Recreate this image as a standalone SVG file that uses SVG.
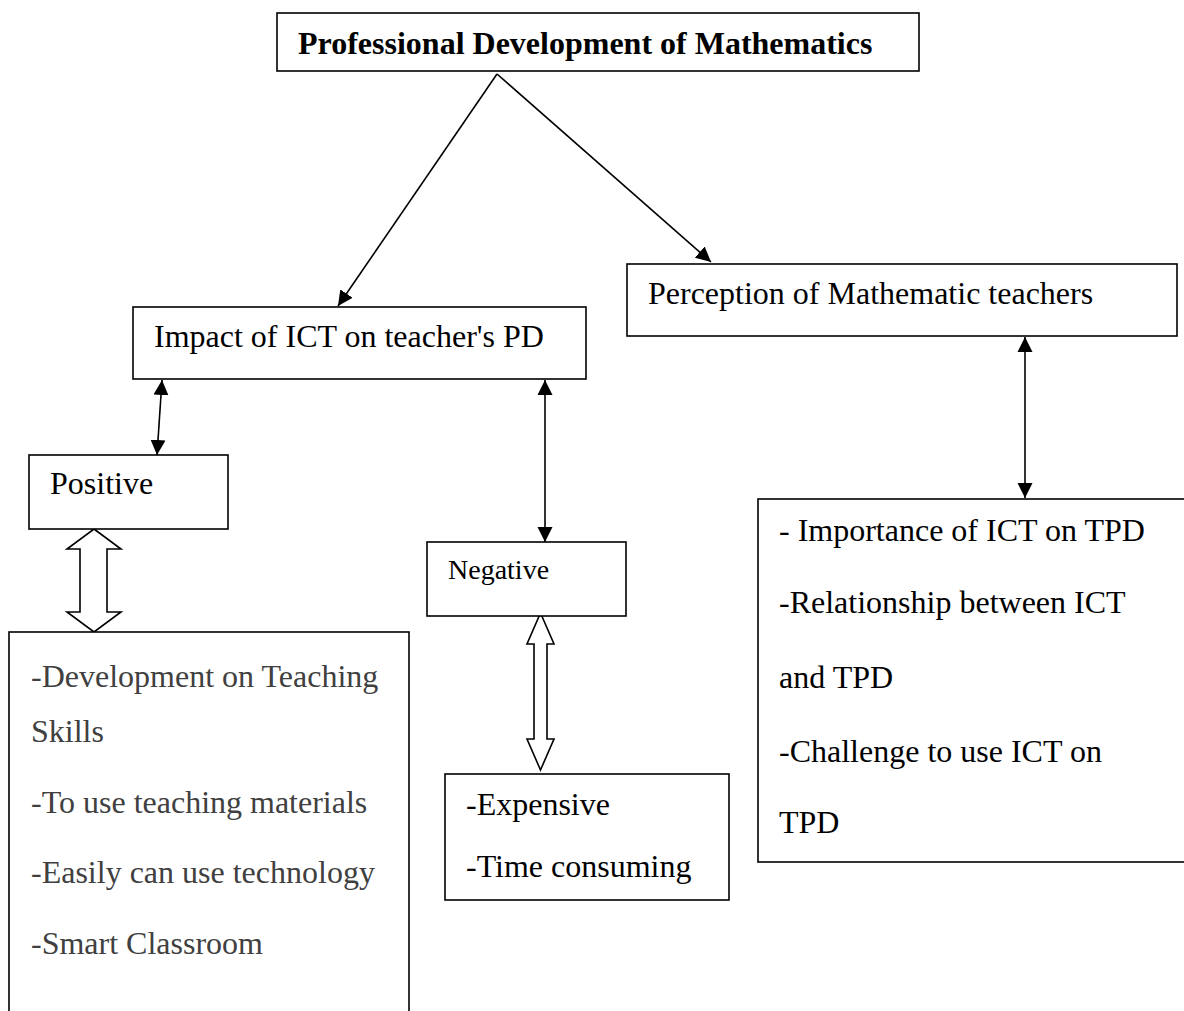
<svg xmlns="http://www.w3.org/2000/svg" width="1184" height="1011" viewBox="0 0 1184 1011">
<defs>
<style>
.box{fill:#fff;stroke:#000;stroke-width:1.6}
.t{font-family:"Liberation Serif","Times New Roman",serif;font-size:32px;fill:#000}
.b{font-weight:bold}
.g{fill:#404040}
.ln{stroke:#000;stroke-width:1.6;fill:none}
.hollow{fill:#fff;stroke:#000;stroke-width:1.6;stroke-linejoin:miter}
</style>
<marker id="ah" markerWidth="16" markerHeight="16" refX="15" refY="8" orient="auto" markerUnits="userSpaceOnUse">
<path d="M0,0.5 L15,8 L0,15.5 Z" fill="#000"/>
</marker>
<marker id="ahs" markerWidth="16" markerHeight="16" refX="15" refY="8" orient="auto-start-reverse" markerUnits="userSpaceOnUse">
<path d="M0,0.5 L15,8 L0,15.5 Z" fill="#000"/>
</marker>
</defs>
<rect width="1184" height="1011" fill="#fff"/>

<g id="connectors">
<line class="ln" x1="497" y1="74" x2="338" y2="306" marker-end="url(#ah)"/>
<line class="ln" x1="497" y1="74" x2="711" y2="262" marker-end="url(#ah)"/>
<line class="ln" x1="162" y1="380" x2="157" y2="455" marker-start="url(#ahs)" marker-end="url(#ahs)"/>
<line class="ln" x1="545" y1="380" x2="545" y2="542" marker-start="url(#ahs)" marker-end="url(#ahs)"/>
<line class="ln" x1="1025" y1="337" x2="1025" y2="498" marker-start="url(#ahs)" marker-end="url(#ahs)"/>
<polygon class="hollow" points="94,529 121,549 107,549 107,612 121,612 94,632 67,612 80,612 80,549 67,549"/>
<polygon class="hollow" points="540.5,613 554,644 547,644 547,739 554,739 540.5,770 527,739 534,739 534,644 527,644"/>
</g>

<g id="node-root">
<rect class="box" x="277" y="13" width="642" height="58"/>
<text class="t b" x="298" y="54">Professional Development of Mathematics</text>
</g>

<g id="node-impact">
<rect class="box" x="133" y="307" width="453" height="72"/>
<text class="t" x="154" y="347">Impact of ICT on teacher's PD</text>
</g>

<g id="node-perception">
<rect class="box" x="627" y="264" width="550" height="72"/>
<text class="t" x="648" y="304">Perception of Mathematic teachers</text>
</g>

<g id="node-positive">
<rect class="box" x="29" y="455" width="199" height="74"/>
<text class="t" x="50" y="494">Positive</text>
</g>

<g id="node-negative">
<rect class="box" x="427" y="542" width="199" height="74"/>
<text class="t" x="448" y="579" style="font-size:28px">Negative</text>
</g>

<g id="node-positive-list">
<rect class="box" x="9" y="632" width="400" height="400"/>
<text class="t g" x="31" y="687">-Development on Teaching</text>
<text class="t g" x="31" y="742">Skills</text>
<text class="t g" x="31" y="813">-To use teaching materials</text>
<text class="t g" x="31" y="883">-Easily can use technology</text>
<text class="t g" x="31" y="954">-Smart Classroom</text>
</g>

<g id="node-negative-list">
<rect class="box" x="445" y="774" width="284" height="126"/>
<text class="t" x="466" y="815">-Expensive</text>
<text class="t" x="466" y="877">-Time consuming</text>
</g>

<g id="node-perception-list">
<rect class="box" x="758" y="499" width="440" height="363"/>
<text class="t" x="779" y="541">- Importance of ICT on TPD</text>
<text class="t" x="779" y="613">-Relationship between ICT</text>
<text class="t" x="779" y="688">and TPD</text>
<text class="t" x="779" y="762">-Challenge to use ICT on</text>
<text class="t" x="779" y="833">TPD</text>
</g>
</svg>
